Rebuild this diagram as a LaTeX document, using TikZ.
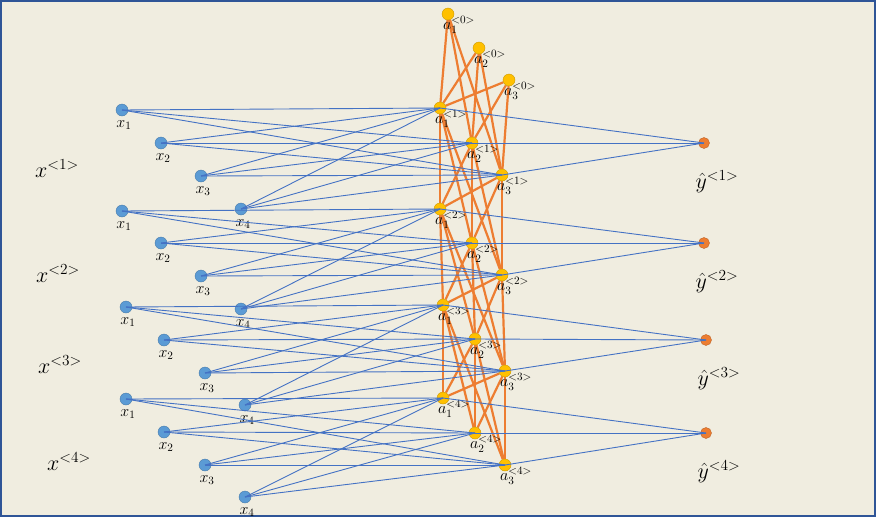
\RequirePackage{fix-cm}
\documentclass[tikz,border=0pt]{standalone}
\usetikzlibrary{backgrounds}

\definecolor{bgcream}{HTML}{F0EDE0}
\definecolor{frameblue}{HTML}{2F5597}
\definecolor{inblue}{HTML}{5B9BD5}
\definecolor{lineblue}{HTML}{4472C4}
\definecolor{hidgold}{HTML}{FFC000}
\definecolor{outorange}{HTML}{ED7D31}

\tikzset{
  xnode/.style={circle,draw=inblue!80!black,fill=inblue,minimum size=12pt,inner sep=0pt},
  anode/.style={circle,draw=hidgold!80!black,fill=hidgold,minimum size=12pt,inner sep=0pt},
  ynode/.style={circle,draw=outorange!80!black,fill=outorange,minimum size=11pt,inner sep=0pt},
  xlab/.style={inner sep=0pt,xshift=2pt,font=\fontsize{16}{18}\selectfont},
  alab/.style={anchor=north west,inner sep=0pt,xshift=-8pt,yshift=2pt,font=\fontsize{16}{18}\selectfont},
  ylab/.style={inner sep=0pt,xshift=13pt,yshift=-9pt,font=\fontsize{22}{24}\selectfont},
  steplab/.style={anchor=base west,inner sep=0pt,font=\fontsize{22}{24}\selectfont},
  inedge/.style={draw=lineblue,line width=0.9pt},
  recedge/.style={draw=outorange,line width=2.2pt}
}

\begin{document}
\begin{tikzpicture}[x=1pt,y=-1pt]

        \useasboundingbox (0,0) rectangle (876,517);
        \begin{scope}[on background layer]
          \draw[fill=bgcream,draw=frameblue,line width=2pt] (1,1) rectangle (875,516);
        \end{scope}

        % inputs
        \begin{scope}[every node/.style={xnode}]
          \node (x11) at (122,110) [label={[xlab]below:$x_1$}] {};
          \node (x12) at (161,143) [label={[xlab]below:$x_2$}] {};
          \node (x13) at (201,176) [label={[xlab]below:$x_3$}] {};
          \node (x14) at (241,209) [label={[xlab]below:$x_4$}] {};
          \node (x21) at (122,211) [label={[xlab]below:$x_1$}] {};
          \node (x22) at (161,243) [label={[xlab]below:$x_2$}] {};
          \node (x23) at (201,276) [label={[xlab]below:$x_3$}] {};
          \node (x24) at (241,309) [label={[xlab]below:$x_4$}] {};
          \node (x31) at (126,307) [label={[xlab]below:$x_1$}] {};
          \node (x32) at (164,340) [label={[xlab]below:$x_2$}] {};
          \node (x33) at (205,373) [label={[xlab]below:$x_3$}] {};
          \node (x34) at (245,405) [label={[xlab]below:$x_4$}] {};
          \node (x41) at (126,399) [label={[xlab]below:$x_1$}] {};
          \node (x42) at (164,432) [label={[xlab]below:$x_2$}] {};
          \node (x43) at (205,465) [label={[xlab]below:$x_3$}] {};
          \node (x44) at (245,497) [label={[xlab]below:$x_4$}] {};
        \end{scope}

        % hidden states
        \begin{scope}[every node/.style={anode}]
          \node (a01) at (448,14)  [label={[alab]0:$a_1^{<0>}$}] {};
          \node (a02) at (479,48)  [label={[alab]0:$a_2^{<0>}$}] {};
          \node (a03) at (509,80)  [label={[alab]0:$a_3^{<0>}$}] {};
          \node (a11) at (440,108) [label={[alab]0:$a_1^{<1>}$}] {};
          \node (a12) at (472,143) [label={[alab]0:$a_2^{<1>}$}] {};
          \node (a13) at (502,175) [label={[alab]0:$a_3^{<1>}$}] {};
          \node (a21) at (440,209) [label={[alab]0:$a_1^{<2>}$}] {};
          \node (a22) at (472,243) [label={[alab]0:$a_2^{<2>}$}] {};
          \node (a23) at (502,275) [label={[alab]0:$a_3^{<2>}$}] {};
          \node (a31) at (443,305) [label={[alab]0:$a_1^{<3>}$}] {};
          \node (a32) at (475,339) [label={[alab]0:$a_2^{<3>}$}] {};
          \node (a33) at (505,371) [label={[alab]0:$a_3^{<3>}$}] {};
          \node (a41) at (443,398) [label={[alab]0:$a_1^{<4>}$}] {};
          \node (a42) at (475,433) [label={[alab]0:$a_2^{<4>}$}] {};
          \node (a43) at (505,465) [label={[alab]0:$a_3^{<4>}$}] {};
        \end{scope}

        % outputs
        \begin{scope}[every node/.style={ynode}]
          \node (y1) at (704,143) [label={[ylab]below:$\hat{y}^{<1>}$}] {};
          \node (y2) at (704,243) [label={[ylab]below:$\hat{y}^{<2>}$}] {};
          \node (y3) at (706,340) [label={[ylab]below:$\hat{y}^{<3>}$}] {};
          \node (y4) at (706,433) [label={[ylab]below:$\hat{y}^{<4>}$}] {};
        \end{scope}

        \node[steplab] (s1) at (35,177) {$x^{<1>}$};
        \node[steplab] (s2) at (36,282) {$x^{<2>}$};
        \node[steplab] (s3) at (38,373) {$x^{<3>}$};
        \node[steplab] (s4) at (47,470) {$x^{<4>}$};

        % recurrent links
        \begin{scope}[on background layer]
          \foreach \t [remember=\t as \s (initially 0)] in {1,2,3,4}
            \foreach \j in {1,2,3}
              \foreach \k in {1,2,3}
                \path (a\s\j) edge[recedge] (a\t\k);
        \end{scope}

        % input and output links
        \foreach \t in {1,2,3,4} {
          \foreach \i in {1,2,3,4}
            \foreach \j in {1,2,3}
              \path (x\t\i.center) edge[inedge] (a\t\j.center);
          \foreach \j in {1,2,3}
            \path (a\t\j.center) edge[inedge] (y\t.center);
        }

      \end{tikzpicture}
\end{document}
